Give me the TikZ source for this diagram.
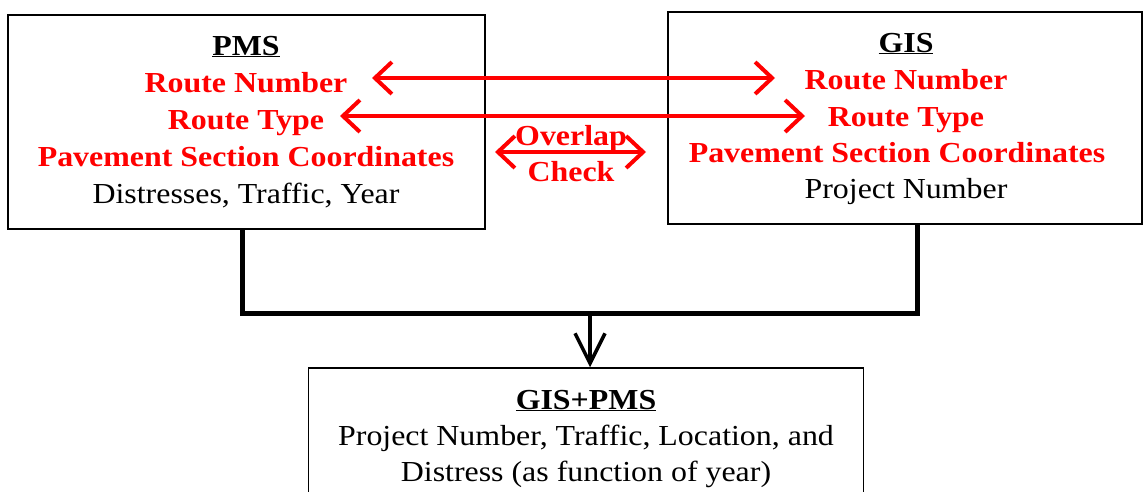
\documentclass[tikz,border=0pt]{standalone}
\usepackage{fontspec}
\setmainfont{Liberation Serif}[FakeStretch=1.1]
\usetikzlibrary{arrows.meta}
\definecolor{pred}{RGB}{255,0,0}
\tikzset{
  box/.style={draw=black, line width=1.5pt, fill=white, inner sep=0pt},
  ttl/.style={anchor=base, inner sep=0pt, font=\fontsize{29}{37}\selectfont\bfseries, text=black},
  key/.style={anchor=base, inner sep=0pt, font=\fontsize{29}{37}\selectfont\bfseries, text=pred},
  plain/.style={anchor=base, inner sep=0pt, font=\fontsize{29}{37}\selectfont, text=black},
  link/.style={draw=pred, line width=4pt, {Straight Barb[length=17pt,width=32pt,line width=4pt]}-{Straight Barb[length=17pt,width=32pt,line width=4pt]}},
  bus/.style={draw=black, line width=5pt, line join=miter},
  down/.style={draw=black, line width=3.5pt, -{Straight Barb[length=30pt,width=30pt,line width=3.5pt]}}
}
\begin{document}
\begin{tikzpicture}[x=1pt,y=-1pt]
\useasboundingbox (0,0) rectangle (1143,491);
\clip (0,0) rectangle (1143,491);
% boxes
\node[box, minimum width=477pt, minimum height=214pt] (pms) at (246.5,122) {};
\node[box, minimum width=474pt, minimum height=212pt] (gis) at (905,118) {};
\node[box, minimum width=555pt, minimum height=160pt] (out) at (586,448) {};
% PMS text
\node[ttl] (pmsT) at (246,55) {\underline{PMS}};
\node[key] (pmsRN) at (246,92) {Route Number};
\node[key] (pmsRT) at (246,129) {Route Type};
\node[key] (pmsPC) at (246,166) {Pavement Section Coordinates};
\node[plain] (pmsD) at (246,203) {Distresses, Traffic, Year};
% GIS text
\node[ttl] (gisT) at (906,52) {\underline{GIS}};
\node[key] (gisRN) at (906,89) {Route Number};
\node[key] (gisRT) at (906,126) {Route Type};
\node[key] (gisPC) at (897,162) {Pavement Section Coordinates};
\node[plain] (gisPN) at (906,198) {Project Number};
% output text
\node[ttl] (outT) at (586,409) {\underline{GIS+PMS}};
\node[plain] (outA) at (586,445) {Project Number, Traffic, Location, and};
\node[plain] (outB) at (586,481) {Distress (as function of year)};
% overlap text
\node[key] (ovA) at (571,145) {Overlap};
\node[key] (ovB) at (571,181) {Check};
% red link end points
\coordinate (rn1) at (372,78);
\coordinate (rn2) at (775,78);
\coordinate (rt1) at (340,116);
\coordinate (rt2) at (805,116);
\coordinate (oc1) at (495,152);
\coordinate (oc2) at (646,152);
\draw[link] (rn1) -- (rn2);
\draw[link] (rt1) -- (rt2);
\draw[link] (oc1) -- (oc2);
% merge connector
\coordinate (j) at (590,313);
\draw[bus] ([xshift=-4.5pt]pms.south) |- (j) -| ([xshift=12pt]gis.south);
\draw[down] (j) -- (j |- out.north);
\end{tikzpicture}
\end{document}
